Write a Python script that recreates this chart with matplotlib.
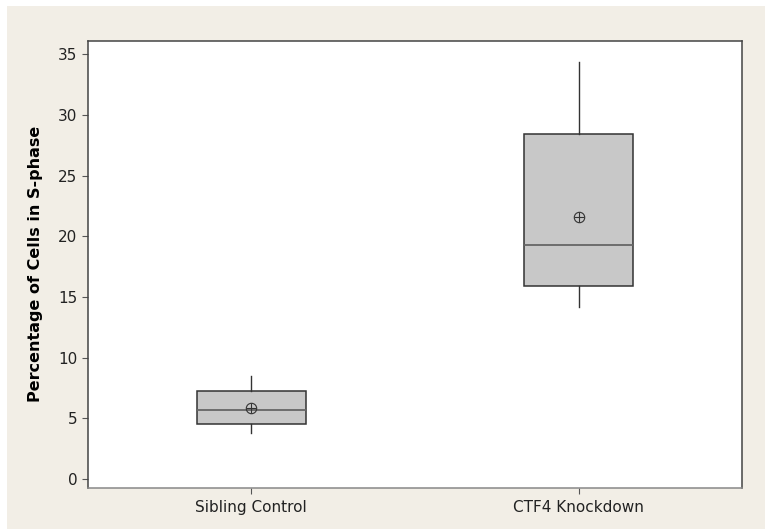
import matplotlib.pyplot as plt
from matplotlib.patches import Rectangle

# summary statistics for each group
groups = ['Sibling Control', 'CTF4 Knockdown']
whislo = [3.84, 14.17]
q1 = [4.58, 15.87]
med = [5.68, 19.24]
q3 = [7.25, 28.42]
whishi = [8.51, 34.32]
means = [5.85, 21.6]

stats = []
for i, name in enumerate(groups):
    stats.append({'label': name, 'whislo': whislo[i], 'q1': q1[i], 'med': med[i],
                  'q3': q3[i], 'whishi': whishi[i], 'mean': means[i], 'fliers': []})

bg = '#F2EEE6'
fig = plt.figure(figsize=(7.65, 5.31), dpi=100, facecolor='white')
fig.patches.append(Rectangle((7 / 765, 2 / 531), 1, 1 - 8 / 531, transform=fig.transFigure,
                             facecolor=bg, edgecolor='none', zorder=-1))

ax = fig.add_axes([0.1146, 0.0815, 0.8557, 0.8419])
ax.bxp(stats, positions=[1, 2], widths=0.333, patch_artist=True,
       showmeans=False, showcaps=False,
       boxprops=dict(facecolor='#C8C8C8', edgecolor='#333333', linewidth=1.1),
       medianprops=dict(color='#666666', linewidth=1.3),
       whiskerprops=dict(color='#333333', linewidth=1.0))

# mean symbol: circle with a cross
ax.plot([1, 2], means, 'o', ms=7.5, mfc='none', mec='#333333', mew=0.8, zorder=5)
ax.plot([1, 2], means, '+', ms=7.5, color='#333333', mew=0.8, zorder=5)

ax.set_xlim(0.5, 2.5)
ax.set_ylim(-0.7, 36.1)
ax.set_yticks(range(0, 36, 5))
ax.set_xticks([1, 2])
ax.set_xticklabels(groups)
ax.tick_params(direction='out', length=4, width=0.8, colors='#555555',
               labelcolor='#222222', labelsize=11)
ax.tick_params(axis='x', pad=5)
for side in ['top', 'left', 'right']:
    ax.spines[side].set_color('#444444')
ax.spines['bottom'].set_color('#888888')
for s in ax.spines.values():
    s.set_linewidth(1.1)

ax.set_ylabel('Percentage of Cells in S-phase', fontsize=11.5, fontweight='bold',
              labelpad=11)

fig.savefig('out.png', dpi=100, facecolor='white')
